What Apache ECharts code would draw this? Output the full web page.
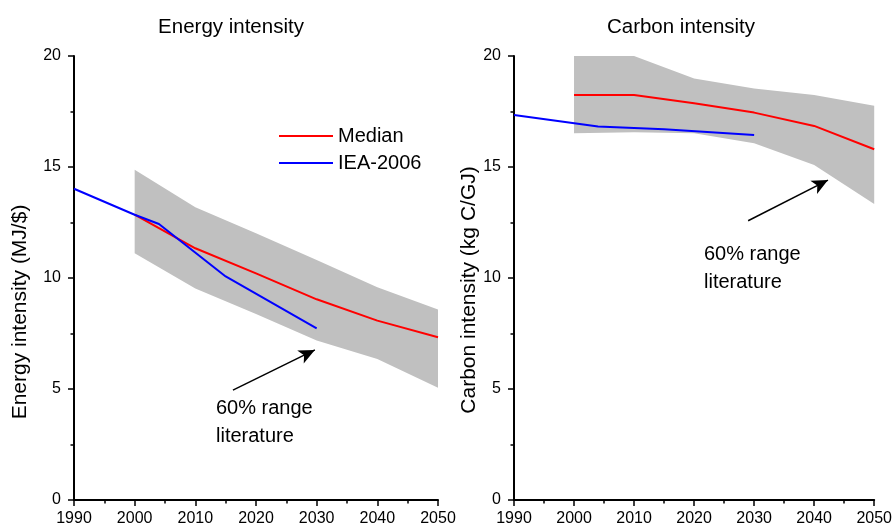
<!DOCTYPE html>
<html>
<head>
<meta charset="utf-8">
<script src="https://cdn.jsdelivr.net/npm/echarts@6/dist/echarts.min.js"></script>
<style>
  html, body { margin: 0; padding: 0; background: #fff; }
  #chart { width: 895px; height: 529px; }
</style>
</head>
<body>
<div id="chart"></div>
<script>
// Years at which the literature range and median are given
const bandYears = [2000, 2010, 2020, 2030, 2040, 2050];

// Energy intensity (MJ/$)
const energyLow    = [11.11, 9.53, 8.38, 7.18, 6.35, 5.06];
const energyHigh   = [14.88, 13.19, 12.02, 10.81, 9.58, 8.58];
const energyMedian = [12.85, 11.34, 10.21, 9.04, 8.08, 7.33];
const ieaEnergyYears = [1990, 2000, 2004, 2015, 2030];
const ieaEnergy      = [14.02, 12.85, 12.43, 10.07, 7.73];

// Carbon intensity (kg C/GJ)
const carbonLow    = [16.52, 16.56, 16.52, 16.07, 15.09, 13.33];
const carbonHigh   = [20.0, 20.0, 18.99, 18.54, 18.24, 17.76];
const carbonMedian = [18.24, 18.24, 17.87, 17.45, 16.85, 15.80];
const ieaCarbonYears = [1990, 2004, 2015, 2030];
const ieaCarbon      = [17.34, 16.82, 16.70, 16.44];

// Axis ticks
const xTicks = { min: 1990, max: 2050, step: 10 };
const yTicks = { min: 0, max: 20, step: 5 };

const FONT = '"Liberation Sans", Arial, Helvetica, sans-serif';
const RED = '#ff0000';
const BLUE = '#0000ff';
const GREY = '#c0c0c0';

const pairs = (xs, ys) => xs.map((x, i) => [x, ys[i]]);

function xAxisCfg(idx) {
  return {
    type: 'value', gridIndex: idx,
    min: xTicks.min, max: xTicks.max, interval: xTicks.step,
    axisLine: { show: true, onZero: false, lineStyle: { color: '#000', width: 2 } },
    axisTick: { show: true, inside: false, length: 6, lineStyle: { color: '#000', width: 1.5 } },
    minorTick: { show: true, splitNumber: 2, length: 3.5, lineStyle: { color: '#000', width: 1.5 } },
    axisLabel: { color: '#000', fontSize: 16, fontFamily: FONT, margin: 11,
      showMinLabel: true, showMaxLabel: true, formatter: v => String(v) },
    splitLine: { show: false }
  };
}
function yAxisCfg(idx) {
  return {
    type: 'value', gridIndex: idx,
    min: yTicks.min, max: yTicks.max, interval: yTicks.step,
    axisLine: { show: true, lineStyle: { color: '#000', width: 2 } },
    axisTick: { show: true, inside: false, length: 6, lineStyle: { color: '#000', width: 1.5 } },
    minorTick: { show: true, splitNumber: 2, length: 3.5, lineStyle: { color: '#000', width: 1.5 } },
    axisLabel: { color: '#000', fontSize: 16, fontFamily: FONT, margin: 13, formatter: v => String(v) },
    splitLine: { show: false }
  };
}

// Shaded 60% range drawn as a polygon in data space
function bandSeries(idx, low, high) {
  return {
    type: 'custom', coordinateSystem: 'cartesian2d',
    xAxisIndex: idx, yAxisIndex: idx, silent: true, z: 1,
    data: [[bandYears[0], low[0]]],
    renderItem: function (params, api) {
      const pts = [];
      for (let i = 0; i < bandYears.length; i++) pts.push(api.coord([bandYears[i], high[i]]));
      for (let i = bandYears.length - 1; i >= 0; i--) pts.push(api.coord([bandYears[i], low[i]]));
      return { type: 'polygon', shape: { points: pts }, style: { fill: GREY } };
    }
  };
}

function lineSeries(name, idx, xs, ys, color, extra) {
  return Object.assign({
    name: name, type: 'line', xAxisIndex: idx, yAxisIndex: idx,
    data: pairs(xs, ys), showSymbol: false, symbol: 'none', color: color,
    lineStyle: { color: color, width: 2 }, z: 3, silent: true, animation: false
  }, extra || {});
}

// Pointer arrow from the annotation text to the shaded range
function arrow(from, to) {
  return {
    silent: true, symbol: ['none', 'arrow'], symbolSize: [11, 16],
    lineStyle: { color: '#000', width: 1.5, type: 'solid' },
    label: { show: false }, animation: false,
    data: [[{ coord: from }, { coord: to }]]
  };
}

const chart = echarts.init(document.getElementById('chart'), null, { renderer: 'canvas' });

chart.setOption({
  animation: false,
  backgroundColor: '#fff',
  textStyle: { fontFamily: FONT },
  title: [
    { text: 'Energy intensity', left: 231, top: 17, textAlign: 'center', padding: 0,
      textStyle: { fontSize: 20.5, fontWeight: 'normal', color: '#000', fontFamily: FONT } },
    { text: 'Carbon intensity', left: 681, top: 17, textAlign: 'center', padding: 0,
      textStyle: { fontSize: 20.5, fontWeight: 'normal', color: '#000', fontFamily: FONT } }
  ],
  legend: {
    data: ['Median', 'IEA-2006'], orient: 'vertical', left: 279, top: 126, padding: 0,
    icon: 'rect', itemWidth: 54, itemHeight: 2, itemGap: 7, selectedMode: false,
    textStyle: { fontSize: 20, lineHeight: 20, color: '#000', fontFamily: FONT }
  },
  grid: [
    { left: 74, top: 56, width: 364, height: 444, containLabel: false },
    { left: 514, top: 56, width: 363, height: 444, containLabel: false }
  ],
  xAxis: [xAxisCfg(0), xAxisCfg(1)],
  yAxis: [yAxisCfg(0), yAxisCfg(1)],
  series: [
    bandSeries(0, energyLow, energyHigh),
    lineSeries('Median', 0, bandYears, energyMedian, RED, { markLine: arrow([2016.2, 4.95], [2029.7, 6.76]) }),
    lineSeries('IEA-2006', 0, ieaEnergyYears, ieaEnergy, BLUE),
    bandSeries(1, carbonLow, carbonHigh),
    lineSeries('Median', 1, bandYears, carbonMedian, RED, { markLine: arrow([2029.0, 12.58], [2042.3, 14.41]) }),
    lineSeries('IEA-2006', 1, ieaCarbonYears, ieaCarbon, BLUE)
  ],
  graphic: [
    { type: 'text', x: 20, y: 312, rotation: Math.PI / 2, silent: true,
      style: { text: 'Energy intensity (MJ/$)', font: '21px ' + FONT, fill: '#000', align: 'center', verticalAlign: 'middle' } },
    { type: 'text', x: 469, y: 290, rotation: Math.PI / 2, silent: true,
      style: { text: 'Carbon intensity (kg C/GJ)', font: '21px ' + FONT, fill: '#000', align: 'center', verticalAlign: 'middle' } },
    { type: 'text', x: 216, y: 394, silent: true,
      style: { text: '60% range\nliterature', font: '20px ' + FONT, lineHeight: 28, fill: '#000', align: 'left', verticalAlign: 'top' } },
    { type: 'text', x: 704, y: 240, silent: true,
      style: { text: '60% range\nliterature', font: '20px ' + FONT, lineHeight: 28, fill: '#000', align: 'left', verticalAlign: 'top' } }
  ]
});
</script>
</body>
</html>
